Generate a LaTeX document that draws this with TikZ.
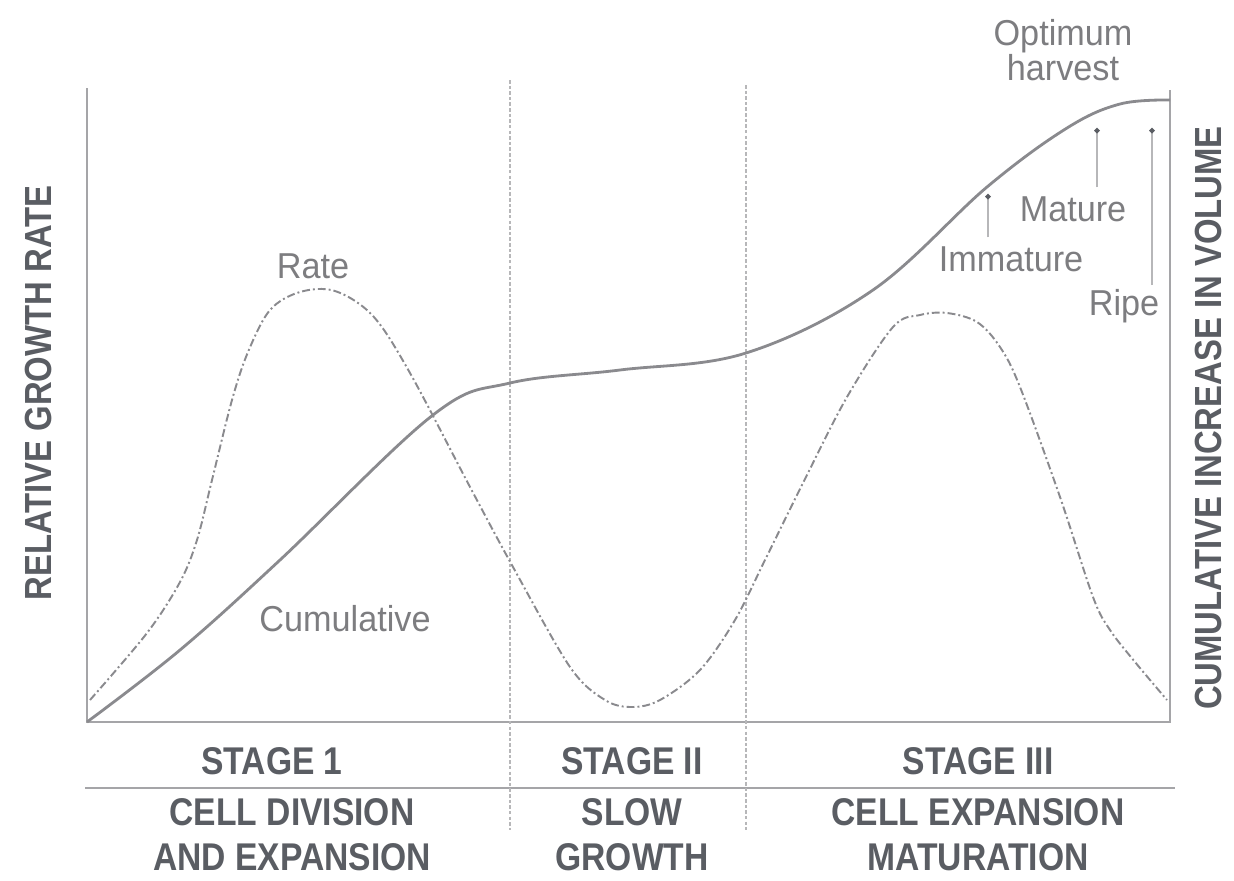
\documentclass[tikz,border=0pt]{standalone}
\usepackage{fontspec}
\setmainfont{Liberation Sans}[FakeStretch=0.95]
\newfontfamily\stagefont{Liberation Sans}[FakeStretch=0.87]
\usepackage{tikz}
\usetikzlibrary{calc,positioning}
\usetikzlibrary{arrows.meta}
\definecolor{axisgray}{HTML}{A5A5A8}
\definecolor{curvegray}{HTML}{8A8A8E}
\definecolor{labelgray}{HTML}{5A5D63}
\definecolor{textgray}{HTML}{7D7D80}
\tikzstyle{every node}=[line width=1pt]

\begin{document}
\begin{tikzpicture}[x=0.02cm, y=-0.02cm]
          \tikzstyle{axis} = [axisgray, line width=1.6pt]
          \tikzstyle{divider} = [axisgray!80, line width=1.1pt, dash pattern=on 2pt off 1.2pt]
          \tikzstyle{cumcurve} = [curvegray, line width=1.6pt]
          \tikzstyle{ratecurve} = [curvegray, line width=1.1pt, dash pattern=on 4.5pt off 1.7pt on 1.1pt off 1.7pt]
          \tikzstyle{pin} = [axisgray!80, line width=1pt, -{Circle[length=3pt, color=labelgray]}]
          \tikzstyle{stagelbl} = [labelgray, inner sep=0pt, font=\stagefont\bfseries\fontsize{22}{25.5}\selectfont, align=center]
          \tikzstyle{axislbl} = [labelgray, inner sep=0pt, rotate=90, font=\stagefont\bfseries\fontsize{21.5}{24}\selectfont]
          \tikzstyle{curvelbl} = [textgray, inner sep=0pt, font=\fontsize{20.5}{18}\selectfont, align=center]

          \useasboundingbox (0,0) rectangle (1234,880);

          % frame and stage dividers
          \draw[axis] (87,88) -- (87,722) -- (1170,722) -- (1170,90);
          \draw[axis] (85,788) -- (1175,788);
          \draw[divider] (510,80) -- (510,830);
          \draw[divider] (746,85) -- (746,830);

          \draw[ratecurve] plot[smooth, tension=0.55] coordinates {(90,700) (147,633) (180,582) (197,540) (212,480) (232,400) (248,352) (270,310) (300,292) (335,291) (373,316) (410,373) (470,487) (513,567) (570,667) (605,700) (632,707) (660,700) (700,670) (735,620) (765,560) (803,483) (847,397) (893,327) (920,315) (947,313) (977,322) (1000,347) (1020,387) (1060,497) (1093,597) (1110,630) (1135,662) (1167,700)};
          \draw[cumcurve] plot[smooth, tension=0.6] coordinates {(87,722) (180,650) (280,560) (433,415) (510,383) (620,370) (746,353) (873,290) (987,187) (1067,128) (1120,104) (1170,100)};

          \node[curvelbl, anchor=base] (rate) at (313,278) {Rate};
          \node[curvelbl, anchor=base] (cumul) at (345,631) {Cumulative};
          \node[curvelbl] (optim) at (1063,50) {Optimum\\harvest};
          \node[curvelbl, anchor=base] (matur) at (1073,221) {Mature};
          \node[curvelbl, anchor=base] (immat) at (1011,271) {Immature};
          \node[curvelbl, anchor=base] (ripe) at (1124,315) {Ripe};

          \coordinate (immtip) at (988,194);
          \coordinate (mattip) at (1097,128);
          \coordinate (ripetip) at (1152,128);
          \draw[pin] (immtip |- immat.north) ++(0,-8) -- (immtip);
          \draw[pin] (mattip |- matur.north) ++(0,-8) -- (mattip);
          \draw[pin] (ripetip |- ripe.north) ++(0,-3) -- (ripetip);

          \node[axislbl] (yleft) at (38,393) {RELATIVE GROWTH RATE};
          \node[axislbl] (yright) at (1208,418) {CUMULATIVE INCREASE IN VOLUME};

          \node[stagelbl, anchor=base] (st1) at (272,774) {STAGE 1};
          \node[stagelbl, anchor=base] (st2) at (632,774) {STAGE II};
          \node[stagelbl, anchor=base] (st3) at (978,774) {STAGE III};
          \node[stagelbl] (ph1) at (292,835) {CELL DIVISION\\AND EXPANSION};
          \node[stagelbl] (ph2) at (632,835) {SLOW\\GROWTH};
          \node[stagelbl] (ph3) at (978,835) {CELL EXPANSION\\MATURATION};
        \end{tikzpicture}
\end{document}
